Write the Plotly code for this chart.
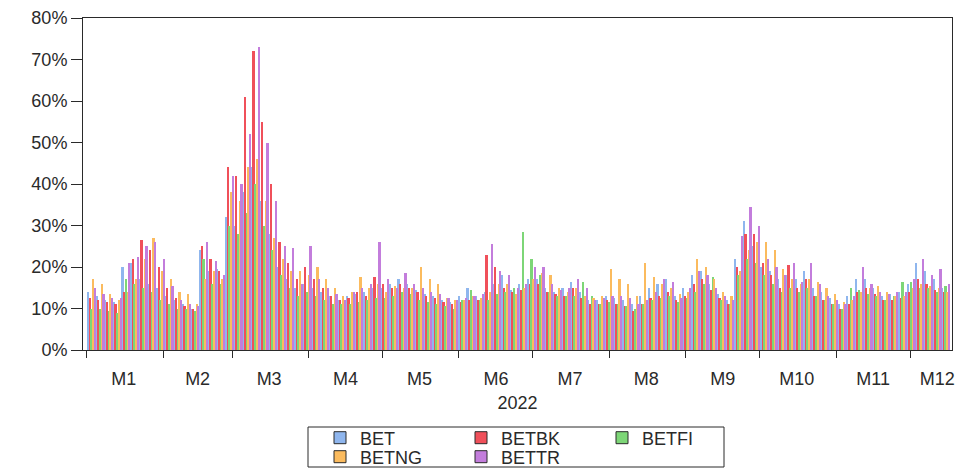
import pandas as pd
import plotly.graph_objects as go

# Observation dates: Mondays (00:00) and Thursdays (12:00) of 2022, Jan 3 .. Dec 15
_days = pd.date_range("2022-01-03", "2022-12-15", freq="D")
DATES = [d + pd.Timedelta(hours=12) if d.weekday() == 3 else d
         for d in _days if d.weekday() in (0, 3)]

# Month boundaries (tick marks) and month label positions
MONTH_STARTS = ["2022-%02d-01" % m for m in range(1, 13)]
MONTH_LABEL_POS = ["2022-01-16", "2022-02-15", "2022-03-16", "2022-04-16",
                   "2022-05-16", "2022-06-16", "2022-07-16", "2022-08-16",
                   "2022-09-16", "2022-10-16", "2022-11-16", "2022-12-12"]
MONTH_LABELS = ["M1", "M2", "M3", "M4", "M5", "M6", "M7", "M8", "M9",
                "M10", "M11", "M12"]

# Volatility (%) per index
BET = [14, 13, 12, 11.5, 20, 21, 17, 16, 15,
       13, 12, 11, 10, 24, 19, 19.5, 32,
       30, 38, 44, 36, 28, 20, 17, 15, 16,
       15, 14, 13, 12, 13, 13.5, 14, 15,
       15, 16, 17, 16, 14.5, 13.5, 13, 12, 11.5,
       13, 15, 13, 14, 16, 18, 14.5, 16, 17,
       17, 15, 14, 15, 16.5, 14, 12, 12,
       13, 12.5, 12, 11, 13, 15, 16, 17, 13,
       15, 18, 19, 16, 13.5, 12, 22, 31, 25,
       20, 19, 17, 18, 17, 19, 15, 14, 12.5,
       11, 13, 17, 17, 15, 13, 13.5, 14,
       16, 21, 19, 17, 15]
BETBK = [12.5, 12, 11.5, 11, 14, 22, 26.5, 24, 20,
         15, 12.5, 10.5, 10, 25, 22, 19, 44,
         42, 61, 72, 55, 40, 26, 21, 17, 20,
         17, 15, 13, 12, 12.5, 14, 13, 17.5,
         16, 15, 16, 15, 14, 13, 12.5, 11.5, 11,
         11.5, 12, 12, 23, 20, 15, 14, 14.5, 16,
         16, 14, 13.5, 13, 15, 12.5, 11, 11,
         12, 11, 10.5, 9.5, 11, 12.5, 13, 14, 12,
         13, 16, 17, 14.5, 12.5, 11, 20, 28, 28,
         21, 18, 15, 20.5, 15, 17, 13, 12, 11,
         10, 11, 14, 15, 13.5, 12, 12, 12.5,
         14, 17, 16, 14.5, 14]
BETFI = [10, 10, 9.5, 9, 17, 16, 15, 14, 12,
         11, 10, 10, 9.5, 22, 16, 16, 30,
         28, 33, 40, 30, 24, 18, 15, 13, 14,
         13, 12, 11, 11, 11, 11.5, 12, 12.5,
         12.5, 13, 14, 13.5, 12, 11.5, 11, 10.5, 10,
         12, 14.5, 12, 12, 13.5, 14, 15, 28.5, 22,
         18, 14, 13, 13, 13, 16.5, 13, 11,
         11.5, 11, 10.5, 10, 11, 12, 12.5, 13, 11.5,
         12.5, 14, 16, 17.5, 12, 11, 18, 22, 21,
         18, 16, 14, 15, 14, 15, 13, 12, 11,
         10, 15, 14.5, 13.5, 13, 12, 13, 16.5,
         16.5, 15, 15, 14, 15.5]
BETNG = [17, 16, 13.5, 12, 14, 17, 22, 27, 19,
         17, 14, 13.5, 11, 17, 19, 17, 38,
         36, 44, 46, 36, 27, 22, 19, 19, 18,
         20, 17, 15, 13, 14, 17.5, 15, 16,
         14, 15.5, 15, 15, 20, 17, 16, 12.5, 12,
         12, 13, 12.5, 14, 16, 16, 13.5, 15, 17,
         18.5, 18, 15, 14, 15, 13, 12.5, 13,
         19.5, 17, 16, 13, 21, 17.5, 16, 15, 13.5,
         14, 22, 20, 17, 14, 13, 19, 24, 26,
         26, 24, 19.5, 17, 16, 17, 16.5, 15, 13.5,
         11.5, 12, 14, 15, 15.5, 14, 13, 13,
         15, 16, 15.5, 15, 14]
BETTR = [15, 13.5, 12.5, 12.5, 21, 22.5, 25, 26, 22,
         15.5, 12, 11, 10.5, 26, 21.5, 18, 42,
         40, 52, 73, 50, 36, 25, 24.5, 16, 25,
         17, 15, 13.5, 12, 14, 15, 16, 26,
         17, 15, 18.5, 16, 15, 14, 13.5, 12.5, 12,
         12.5, 13, 13.5, 25.5, 19, 18, 15, 16, 20,
         20, 16, 14.5, 15, 17, 15, 12, 12.5,
         13, 13, 12.5, 11, 12, 14, 17, 16.5, 12.5,
         15, 19, 18, 15, 13, 12, 27.5, 34.5, 30,
         22, 20, 18, 21, 16.5, 21, 16, 13, 12,
         11, 13, 20, 16, 14, 13.5, 14, 14,
         17, 22, 18, 19.5, 16]

SERIES = [("BET", BET, "#8fb6ee", "legend"),
          ("BETBK", BETBK, "#f0505a", "legend"),
          ("BETFI", BETFI, "#7dd677", "legend"),
          ("BETNG", BETNG, "#fbbb5e", "legend2"),
          ("BETTR", BETTR, "#c37ddc", "legend2")]

FONT = "Liberation Sans, Arial, sans-serif"
INK = "#2a2a2a"

fig = go.Figure()
for name, vals, col, lg in SERIES:
    fig.add_trace(go.Bar(x=DATES, y=vals, name=name, legend=lg, showlegend=False,
                         legendgroup=name, offsetgroup=name,
                         marker=dict(color=col, line=dict(width=0))))
# legend entries with outlined swatches (share the slot of their series)
for name, vals, col, lg in SERIES:
    fig.add_trace(go.Bar(x=[None], y=[None], name=name, legend=lg, showlegend=True,
                         legendgroup=name, offsetgroup=name, hoverinfo="skip",
                         marker=dict(color=col, line=dict(width=1, color=INK))))

# The page body adds an 8px margin; size the figure so the window matches.
OFF = 8
W, H = 964 - OFF, 468 - OFF
L, R, T, B = 83 - OFF, 12, 18 - OFF, 118
pw, ph = W - L - R, H - T - B


def px_x(xs):  # screen x -> paper
    return (xs - OFF - L) / pw


def px_y(ys):  # screen y -> paper
    return (H - B - (ys - OFF)) / ph


fig.update_layout(
    width=W, height=H,
    margin=dict(l=L, r=R, t=T, b=B, autoexpand=False),
    paper_bgcolor="white", plot_bgcolor="white",
    barmode="group", bargap=0, bargroupgap=0,
    font=dict(family=FONT, size=18, color=INK),
    xaxis=dict(
        type="date",
        range=["2021-12-30 12:00", "2022-12-18"],
        tickmode="array", tickvals=MONTH_LABEL_POS, ticktext=MONTH_LABELS,
        ticks="", ticklabelstandoff=12,
        minor=dict(tickmode="array", tickvals=MONTH_STARTS, ticks="outside",
                   ticklen=7, tickcolor=INK, showgrid=False),
        showline=True, linecolor=INK, linewidth=1, mirror=True,
        showgrid=False, zeroline=False,
        title=dict(text="2022", standoff=8, font=dict(size=18)),
        tickfont=dict(size=18),
    ),
    yaxis=dict(
        range=[0, 80], dtick=10, ticksuffix="%",
        ticks="outside", ticklen=11, tickcolor=INK,
        showline=True, linecolor=INK, linewidth=1, mirror=True,
        showgrid=False, zeroline=False,
        tickfont=dict(size=18),
    ),
    legend=dict(orientation="h", x=px_x(320), y=px_y(438), xanchor="left",
                yanchor="middle", entrywidth=96, font=dict(size=18),
                bgcolor="rgba(0,0,0,0)", traceorder="normal", itemclick=False),
    legend2=dict(orientation="h", x=px_x(320), y=px_y(457), xanchor="left",
                 yanchor="middle", entrywidth=96, font=dict(size=18),
                 bgcolor="rgba(0,0,0,0)", traceorder="normal", itemclick=False),
    shapes=[dict(type="rect", xref="paper", yref="paper",
                 x0=px_x(308), x1=px_x(724), y0=px_y(467), y1=px_y(427),
                 line=dict(color=INK, width=1), fillcolor="rgba(0,0,0,0)")],
)

fig.write_html("out.html")
